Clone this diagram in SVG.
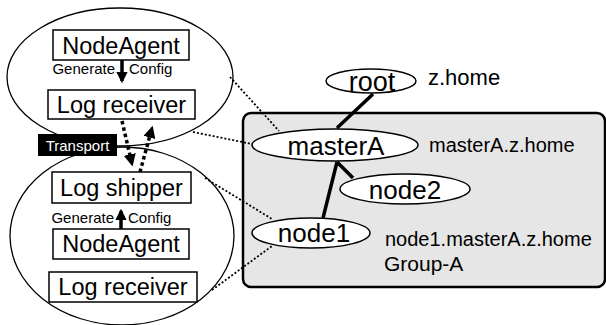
<svg xmlns="http://www.w3.org/2000/svg" width="606" height="325" viewBox="0 0 606 325">
<defs>
<marker id="ah" viewBox="0 0 10 10" refX="8" refY="5" markerWidth="3.2" markerHeight="3.2" orient="auto" markerUnits="strokeWidth">
<path d="M0,0 L10,5 L0,10 z" fill="#000"/>
</marker>
<marker id="ahd" viewBox="0 0 10 10" refX="8" refY="5" markerWidth="3.5" markerHeight="3.5" orient="auto" markerUnits="strokeWidth">
<path d="M0,0 L10,5 L0,10 z" fill="#000"/>
</marker>
</defs>
<style>
text{font-family:"Liberation Sans",Arial,sans-serif;fill:#000}
.box{fill:#fff;stroke:#000;stroke-width:1.5}
.big{font-size:23.5px;text-anchor:middle}
.sm{font-size:15px}
.node{fill:#fff;stroke:#000;stroke-width:1.5}
.lbl{font-size:26px;text-anchor:middle}
.dom{font-size:20px}
.edge{stroke:#000;stroke-width:3.5;fill:none}
.dot{stroke:#000;stroke-width:1.8;stroke-dasharray:2,2;fill:none}
.tr{stroke:#000;stroke-width:3.5;stroke-dasharray:3.5,3;fill:none}
.ell{fill:none;stroke:#000;stroke-width:1.3}
</style>
<g id="group-a">
<rect x="243" y="113" width="362" height="174" rx="8" fill="#e6e6e6" stroke="#000" stroke-width="2.5"/>
<text x="384" y="271" style="font-size:21px">Group-A</text>
</g>
<g id="host-top">
<ellipse class="ell" cx="120" cy="77" rx="113" ry="69"/>
</g>
<g id="host-bottom">
<ellipse class="ell" cx="122" cy="236" rx="112" ry="89"/>
</g>
<g id="connectors">
<line class="edge" x1="373" y1="94" x2="337" y2="128"/>
<line class="edge" x1="337" y1="162" x2="323" y2="218"/>
<line class="edge" x1="337" y1="162" x2="353" y2="178"/>
<line class="dot" x1="230" y1="77" x2="279" y2="131"/>
<line class="dot" x1="193" y1="132" x2="252" y2="144"/>
<line class="dot" x1="205" y1="178" x2="272" y2="219"/>
<line class="dot" x1="212" y1="290" x2="272" y2="246"/>
<line stroke="#000" stroke-width="3.5" x1="122" y1="60" x2="122" y2="81" marker-end="url(#ah)"/>
<line stroke="#000" stroke-width="3.5" x1="121" y1="229" x2="121" y2="211" marker-end="url(#ah)"/>
<line class="tr" x1="122" y1="121" x2="132" y2="164" marker-end="url(#ahd)"/>
<line class="tr" x1="140" y1="172" x2="152" y2="128" marker-end="url(#ahd)"/>
</g>
<g id="nodeagent-top">
<rect class="box" x="53" y="30" width="136" height="30"/>
<text class="big" x="121" y="54">NodeAgent</text>
</g>
<g id="gen-top">
<text class="sm" x="115" y="74" text-anchor="end">Generate</text>
<text class="sm" x="129" y="74">Config</text>
</g>
<g id="logreceiver-top">
<rect class="box" x="48" y="90" width="147" height="29"/>
<text class="big" x="121.5" y="113">Log receiver</text>
</g>
<g id="transport">
<rect x="38" y="134" width="79" height="22" fill="#000"/>
<text x="77.5" y="150.5" style="font-size:15px;fill:#fff;text-anchor:middle">Transport</text>
</g>
<g id="logshipper">
<rect class="box" x="52" y="172" width="139" height="31"/>
<text class="big" x="121.5" y="196">Log shipper</text>
</g>
<g id="gen-bottom">
<text class="sm" x="114" y="223" text-anchor="end">Generate</text>
<text class="sm" x="128" y="223">Config</text>
</g>
<g id="nodeagent-bottom">
<rect class="box" x="53" y="229" width="136" height="30"/>
<text class="big" x="121" y="252">NodeAgent</text>
</g>
<g id="logreceiver-bottom">
<rect class="box" x="49" y="272" width="148" height="30"/>
<text class="big" x="123" y="295">Log receiver</text>
</g>
<g id="root">
<ellipse class="node" cx="371" cy="81" rx="45" ry="12"/>
<text class="lbl" x="372" y="91" style="font-size:27px">root</text>
<text x="428" y="85" style="font-size:22px">z.home</text>
</g>
<g id="masterA">
<ellipse class="node" cx="335" cy="145" rx="83" ry="16"/>
<text class="lbl" x="336" y="155">masterA</text>
<text class="dom" x="429" y="152">masterA.z.home</text>
</g>
<g id="node2">
<ellipse class="node" cx="405" cy="189" rx="65" ry="15"/>
<text class="lbl" x="405" y="199">node2</text>
</g>
<g id="node1">
<ellipse class="node" cx="311" cy="233" rx="59" ry="15"/>
<text class="lbl" x="314" y="242">node1</text>
<text class="dom" x="385" y="246">node1.masterA.z.home</text>
</g>
</svg>
